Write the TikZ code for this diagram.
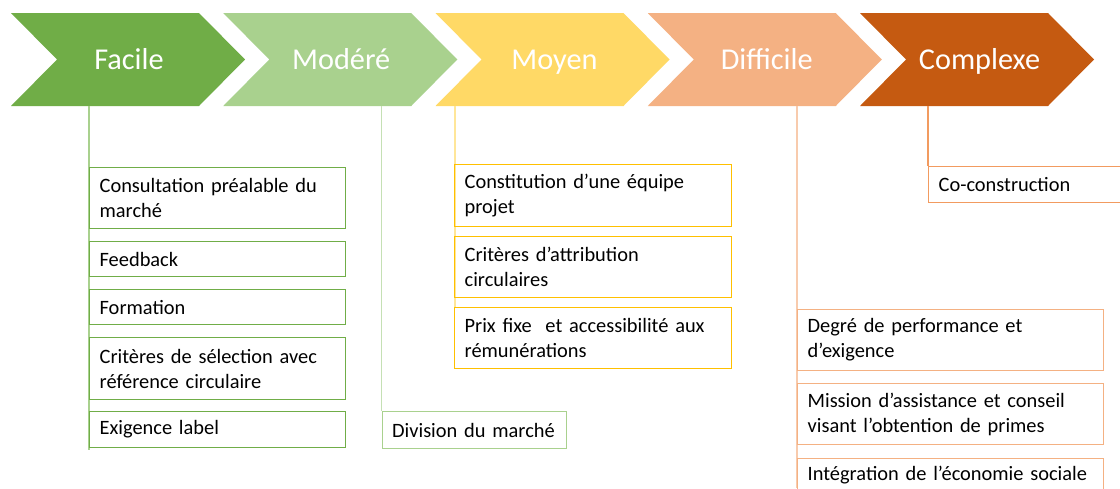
\documentclass[tikz,border=0pt]{standalone}
\usepackage{fontspec}
\setmainfont{Carlito}
\definecolor{cFac}{HTML}{70AD47}
\definecolor{cMod}{HTML}{A9D18E}
\definecolor{cMoy}{HTML}{FFD966}
\definecolor{cDif}{HTML}{F4B183}
\definecolor{cCom}{HTML}{C55A11}
\definecolor{lFac}{HTML}{A9D18E}
\definecolor{lMod}{HTML}{C5E0B4}
\definecolor{lMoy}{HTML}{FFE699}
\definecolor{bMoy}{HTML}{FFC000}
\definecolor{lDif}{HTML}{F8CBAD}
\definecolor{lCom}{HTML}{F29B60}
\newcommand{\chev}[2]{%
  \fill[#2] (#1,13) -- ++(188,0) -- ++(46,46.5) -- ++(-46,46.5) -- ++(-188,0) -- ++(46,-46.5) -- cycle;}
\begin{document}
\begin{tikzpicture}[x=1pt,y=-1pt,
  title/.style={text=white,font=\fontsize{30.3}{36}\selectfont,inner sep=0pt,anchor=base},
  item/.style={draw,line width=1.3pt,anchor=north west,align=left,inner xsep=10pt,inner ysep=0pt,
    font=\fontsize{20.4}{25}\selectfont,text=black},
  link/.style={line width=1.2pt}]
\useasboundingbox (0,0) rectangle (1120,488);
\clip (0,0) rectangle (1120,488);
\fill[white] (0,0) rectangle (1120,488);
% chevrons
\chev{11}{cFac}
\chev{223.25}{cMod}
\chev{435.5}{cMoy}
\chev{647.75}{cDif}
\chev{860}{cCom}
\node[title] (tFac) at (129,69) {Facile};
\node[title] (tMod) at (341.25,69) {Modéré};
\node[title] (tMoy) at (554.5,69) {Moyen};
\node[title] (tDif) at (766.75,69) {Difficile};
\node[title] (tCom) at (979.5,69) {Complexe};
% connector start points on chevron bottoms
\coordinate (sFac) at (89,106);
\coordinate (sMod) at (381.5,106);
\coordinate (sMoy) at (455,106);
\coordinate (sDif) at (797,106);
\coordinate (sCom) at (928,106);
\coordinate (eFac) at (89,450);
\coordinate (eMod) at (381.5,411);
\coordinate (eMoy) at (455,307);
\coordinate (eDif) at (797,488);
\coordinate (eCom) at (928,166);
\draw[link,lFac] (sFac) -- (eFac);
\draw[link,lMod] (sMod) -- (eMod);
\draw[link,lMoy] (sMoy) -- (eMoy);
\draw[link,lDif] (sDif) -- (eDif);
\draw[link,lCom] (sCom) -- (eCom);
% Facile boxes
\begin{scope}[every node/.style={item,draw=cFac,text width=236pt}]
\node[minimum height=61pt] (f1) at (89,167) {Consultation préalable du\\marché};
\node[minimum height=35pt] (f2) at (89,241) {Feedback};
\node[minimum height=35pt] (f3) at (89,289) {Formation};
\node[minimum height=62pt] (f4) at (89,337) {Critères de sélection avec\\référence circulaire};
\node[minimum height=36pt] (f5) at (89,411) {Exigence label};
\end{scope}
% Modere box
\node[item,draw=cMod,text width=164pt,minimum height=37pt] (m1) at (381.5,411) {\mbox{Division du marché}};
% Moyen boxes
\begin{scope}[every node/.style={item,draw=bMoy,text width=257pt}]
\node[minimum height=62pt] (y1) at (454,164) {Constitution d’une équipe\\projet};
\node[minimum height=61pt] (y2) at (454,236) {Critères d’attribution\\circulaires};
\node[minimum height=61pt] (y3) at (454,307) {Prix fixe\ \ et accessibilité aux\\rémunérations};
\end{scope}
% Difficile boxes
\begin{scope}[every node/.style={item,draw=cDif,text width=286pt}]
\node[minimum height=61pt] (d1) at (797,309) {Degré de performance et\\d’exigence};
\node[minimum height=61pt] (d2) at (797,383) {Mission d’assistance et conseil\\visant l’obtention de primes};
\node[minimum height=61pt] (d3) at (797,458) {Intégration de l’économie sociale\\\strut};
\end{scope}
% Complexe box
\node[item,draw=lCom,text width=220pt,minimum height=36pt] (c1) at (928,166) {Co-construction};
\end{tikzpicture}
\end{document}
